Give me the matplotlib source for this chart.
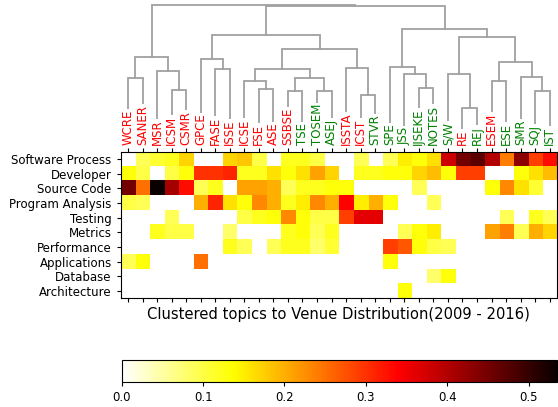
import numpy as np
import matplotlib
matplotlib.use("Agg")
import matplotlib.pyplot as plt

#%% data
venues = ["WCRE", "SANER", "MSR", "ICSM", "CSMR", "GPCE", "FASE", "ISSE", "ICSE", "FSE",
          "ASE", "SSBSE", "TSE", "TOSEM", "ASEJ", "ISSTA", "ICST", "STVR", "SPE", "JSS",
          "IJSEKE", "NOTES", "S/W", "RE", "REJ", "ESEM", "ESE", "SMR", "SQJ", "IST"]
journals = ["TSE", "TOSEM", "ASEJ", "STVR", "SPE", "JSS", "IJSEKE", "NOTES", "S/W",
            "REJ", "ESE", "SMR", "SQJ", "IST"]
topics = ["Software Process", "Developer", "Source Code", "Program Analysis", "Testing",
          "Metrics", "Performance", "Applications", "Database", "Architecture"]

software_process = [0, .09, .11, .12, .17, 0, 0, .17, .18, .10, 0, .12, .12, .10, 0,
                    0, .09, 0, .09, .15, .13, .16, .38, .45, .47, .40, .24, .43, .29, .33]
developer = [.13, .10, 0, .10, .13, .30, .30, .31, .12, .12, .16, .13, .16, .21, .17,
             0, .12, .12, .13, .13, .17, .19, .13, .29, .29, 0, 0, .13, .16, .19]
source_code = [.45, .25, .535, .41, .33, .09, .12, 0, .21, .21, .20, .09, .12, .12, .13,
               .13, 0, 0, 0, 0, .09, 0, 0, 0, 0, .13, .23, .16, .11, 0]
program_analysis = [.10, .09, 0, 0, 0, .20, .31, .16, .13, .23, .20, .12, .15, .23, .20,
                    .34, .15, .20, .13, 0, 0, .09, 0, 0, 0, 0, 0, 0, 0, 0]
testing = [0, 0, 0, .09, 0, 0, 0, 0, .10, .12, .13, .23, .13, .10, .10,
           .29, .36, .36, 0, 0, 0, 0, 0, 0, 0, 0, .09, 0, .12, .09]
metrics = [0, 0, .12, .10, .10, 0, 0, .08, 0, 0, 0, .12, .13, .09, .12,
           0, 0, 0, 0, .09, .13, .15, 0, 0, 0, .21, .24, .09, .20, .17]
performance = [0, 0, 0, 0, 0, 0, 0, .12, .09, 0, .09, .12, .12, .08, .11,
               0, 0, 0, .29, .27, .13, .10, .09, 0, 0, 0, 0, 0, 0, 0]
applications = [.09, .13, 0, 0, 0, .25, 0, 0, 0, 0, 0, 0, 0, 0, 0,
                0, 0, 0, .13, 0, 0, 0, 0, 0, 0, 0, 0, 0, 0, 0]
database = [0, 0, 0, 0, 0, 0, 0, 0, 0, 0, 0, 0, 0, 0, 0,
            0, 0, 0, 0, 0, 0, .08, .13, 0, 0, 0, 0, 0, 0, 0]
architecture = [0, 0, 0, 0, 0, 0, 0, 0, 0, 0, 0, 0, 0, 0, 0,
                0, 0, 0, 0, .13, 0, 0, 0, 0, 0, 0, 0, 0, 0, 0]

# linkage rows: (node a, node b, distance); new nodes numbered from 30
linkage = [(0, 1, 2.00), (3, 4, 1.65), (2, 31, 2.22), (30, 32, 2.63),
           (6, 7, 2.28), (5, 34, 2.58), (9, 10, 1.67), (8, 36, 1.93),
           (11, 12, 1.63), (13, 14, 1.63), (38, 39, 2.02), (37, 40, 2.28),
           (16, 17, 1.50), (15, 42, 2.32), (41, 43, 2.87), (35, 44, 3.30),
           (20, 21, 1.72), (19, 46, 2.13), (18, 47, 2.35), (23, 24, 1.12),
           (22, 49, 2.13), (25, 26, 1.92), (28, 29, 1.63), (27, 52, 2.05),
           (51, 53, 2.50), (50, 54, 3.25), (48, 55, 3.48), (45, 56, 4.17),
           (33, 57, 4.21)]

data = np.array([software_process, developer, source_code, program_analysis, testing,
                 metrics, performance, applications, database, architecture])

#%% figure
fig = plt.figure(figsize=(5.58, 4.07), dpi=100)
W, H = 558.0, 407.0
x0, x1 = 120.7, 557.0

# dendrogram
axd = fig.add_axes([x0 / W, 1 - 145 / H, (x1 - x0) / W, 145 / H])
pos = {i: (float(i), 0.0) for i in range(len(venues))}
n = len(venues)
for k, (a, b, h) in enumerate(linkage):
    xa, ha = pos[a]
    xb, hb = pos[b]
    axd.plot([xa, xa, xb, xb], [ha, h, h, hb], color="#a0a0a0", lw=1.3,
             solid_joinstyle="miter", zorder=1)
    pos[n + k] = ((xa + xb) / 2, h)
axd.set_xlim(-0.5, n - 0.5)
axd.set_ylim(0, 4.35)
axd.axis("off")
for i, v in enumerate(venues):
    c = "green" if v in journals else "red"
    axd.text(i, 0, v, rotation=90, ha="center", va="bottom", color=c, fontsize=8.5,
             zorder=3, bbox=dict(facecolor="white", edgecolor="none", pad=0.5))

# heatmap
axh = fig.add_axes([x0 / W, 1 - 298.3 / H, (x1 - x0) / W, (298.3 - 151.7) / H])
im = axh.imshow(data, cmap="hot_r", aspect="auto", interpolation="nearest")
axh.set_xticks(np.arange(n))
axh.set_yticks(np.arange(len(topics)))
axh.set_yticklabels(topics, fontsize=8.5)
axh.tick_params(axis="x", top=True, bottom=True, labelbottom=False, labeltop=False, length=3)
axh.tick_params(axis="y", length=3)

fig.text((x0 + x1) / 2 / W, 1 - 314 / H, "Clustered topics to Venue Distribution(2009 - 2016)",
         ha="center", va="center", fontsize=10.6)

# colorbar
cax = fig.add_axes([121.7 / W, 1 - 381.7 / H, (x1 - 121.7) / W, 21.7 / H])
cb = fig.colorbar(im, cax=cax, orientation="horizontal")
cb.set_ticks([0.0, 0.1, 0.2, 0.3, 0.4, 0.5])
cb.ax.tick_params(labelsize=8.5, length=3)

plt.savefig("out.png", dpi=100)
